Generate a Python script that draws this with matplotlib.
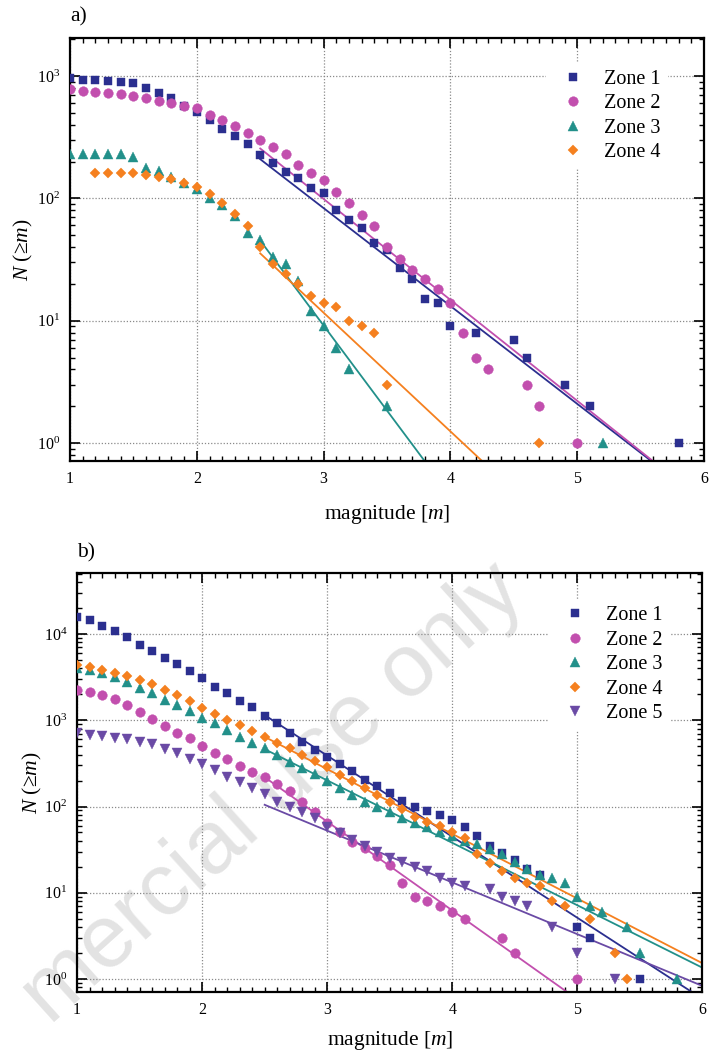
import matplotlib
matplotlib.use("Agg")
import matplotlib.pyplot as plt
import numpy as np
from matplotlib.ticker import LogLocator, MultipleLocator, NullFormatter

plt.rcParams['font.family'] = ['Liberation Serif', 'DejaVu Serif']
plt.rcParams['mathtext.fontset'] = 'custom'
plt.rcParams['mathtext.rm'] = 'Liberation Serif'
plt.rcParams['mathtext.it'] = 'Liberation Serif:italic'
plt.rcParams['mathtext.bf'] = 'Liberation Serif:bold'

# ---------------- panel a: cumulative counts N(>=m) ----------------
m_a1 = [1.0, 1.1, 1.2, 1.3, 1.4, 1.5, 1.6, 1.7, 1.8, 1.9, 2.0, 2.1, 2.2, 2.3, 2.4, 2.5,
        2.6, 2.7, 2.8, 2.9, 3.0, 3.1, 3.2, 3.3, 3.4, 3.5, 3.6, 3.7, 3.8, 3.9, 4.0, 4.2,
        4.5, 4.6, 4.9, 5.1, 5.8]
n_a1 = [957, 927, 927, 910, 888, 871, 803, 731, 665, 570, 511, 436, 366, 323, 278, 226,
        193, 165, 146, 122, 110, 80, 66, 57, 43, 38, 27, 22, 15, 14, 9, 8,
        7, 5, 3, 2, 1]

m_a2 = [1.0, 1.1, 1.2, 1.3, 1.4, 1.5, 1.6, 1.7, 1.8, 1.9, 2.0, 2.1, 2.2, 2.3, 2.4, 2.5,
        2.6, 2.7, 2.8, 2.9, 3.0, 3.1, 3.2, 3.3, 3.4, 3.5, 3.6, 3.7, 3.8, 3.9, 4.0, 4.1,
        4.2, 4.3, 4.6, 4.7, 5.0]
n_a2 = [778, 759, 744, 731, 713, 690, 657, 628, 598, 569, 545, 480, 437, 390, 340, 300,
        264, 229, 187, 162, 141, 113, 91, 73, 59, 40, 32, 26, 22, 18, 14, 8,
        5, 4, 3, 2, 1]

m_a3 = [1.0, 1.1, 1.2, 1.3, 1.4, 1.5, 1.6, 1.7, 1.8, 1.9, 2.0, 2.1, 2.2, 2.3, 2.4, 2.5,
        2.6, 2.7, 2.8, 2.9, 3.0, 3.1, 3.2, 3.5, 5.2]
n_a3 = [230, 230, 230, 230, 230, 219, 178, 168, 150, 134, 120, 100, 88, 72, 52, 46,
        33, 29, 21, 12, 9, 6, 4, 2, 1]

m_a4 = [1.2, 1.3, 1.4, 1.5, 1.6, 1.7, 1.8, 1.9, 2.0, 2.1, 2.2, 2.3, 2.4, 2.5, 2.6, 2.7,
        2.8, 2.9, 3.0, 3.1, 3.2, 3.3, 3.4, 3.5, 4.7]
n_a4 = [160, 160, 160, 160, 155, 150, 144, 134, 123, 108, 91, 75, 59, 40, 29, 24,
        20, 16, 14, 13, 10, 9, 8, 3, 1]

# Gutenberg-Richter fits, log10 N = a - b m, drawn from m_start upward
fit_a_start = [2.5, 2.5, 2.5, 2.5]
fit_a_a = [4.32, 4.47, 5.13, 3.975]
fit_a_b = [0.80, 0.825, 1.39, 0.97]

# ---------------- panel b ----------------
m_b1 = [1.0, 1.1, 1.2, 1.3, 1.4, 1.5, 1.6, 1.7, 1.8, 1.9, 2.0, 2.1, 2.2, 2.3, 2.4, 2.5,
        2.6, 2.7, 2.8, 2.9, 3.0, 3.1, 3.2, 3.3, 3.4, 3.5, 3.6, 3.7, 3.8, 3.9, 4.0, 4.1,
        4.2, 4.3, 4.4, 4.5, 4.6, 4.7, 5.0, 5.1, 5.5]
n_b1 = [15800, 14400, 12500, 10900, 9230, 7500, 6280, 5250, 4470, 3740, 3120, 2450, 2085,
        1667, 1406, 1124, 932, 712, 565, 458, 373, 312, 258, 205, 173, 144, 117, 100,
        89, 80, 70, 58, 45, 35, 29, 24, 19, 16, 4, 3, 1]

m_b2 = [1.0, 1.1, 1.2, 1.3, 1.4, 1.5, 1.6, 1.7, 1.8, 1.9, 2.0, 2.1, 2.2, 2.3, 2.4, 2.5,
        2.6, 2.7, 2.8, 2.9, 3.0, 3.1, 3.2, 3.3, 3.4, 3.5, 3.6, 3.7, 3.8, 3.9, 4.0, 4.1,
        4.4, 4.5, 5.0]
n_b2 = [2240, 2140, 1960, 1745, 1510, 1230, 1030, 860, 719, 618, 504, 415, 353, 295, 254,
        222, 183, 153, 114, 87, 65, 51, 39, 33, 27, 21, 13, 9, 8, 7, 6, 5,
        3, 2, 1]

m_b3 = [1.0, 1.1, 1.2, 1.3, 1.4, 1.5, 1.6, 1.7, 1.8, 1.9, 2.0, 2.1, 2.2, 2.3, 2.4, 2.5,
        2.6, 2.7, 2.8, 2.9, 3.0, 3.1, 3.2, 3.3, 3.4, 3.5, 3.6, 3.7, 3.8, 3.9, 4.0, 4.1,
        4.2, 4.3, 4.4, 4.5, 4.6, 4.7, 4.8, 4.9, 5.0, 5.1, 5.2, 5.4, 5.5, 5.8]
n_b3 = [4010, 3835, 3510, 3210, 2800, 2342, 2050, 1712, 1490, 1285, 1074, 922, 772, 646,
        550, 473, 396, 331, 282, 236, 197, 163, 136, 112, 100, 86, 74, 64, 58, 51, 45,
        40, 37, 32, 28, 23, 19, 16, 15, 13, 9, 7, 6, 4, 2, 1]

m_b4 = [1.0, 1.1, 1.2, 1.3, 1.4, 1.5, 1.6, 1.7, 1.8, 1.9, 2.0, 2.1, 2.2, 2.3, 2.4, 2.5,
        2.6, 2.7, 2.8, 2.9, 3.0, 3.1, 3.2, 3.3, 3.4, 3.5, 3.6, 3.7, 3.8, 3.9, 4.0, 4.1,
        4.2, 4.3, 4.4, 4.5, 4.6, 4.7, 4.8, 4.9, 5.1, 5.3, 5.4]
n_b4 = [4385, 4195, 3838, 3573, 3266, 2932, 2620, 2220, 1960, 1680, 1390, 1190, 1013, 878,
        750, 643, 541, 473, 400, 335, 287, 232, 198, 165, 136, 114, 93, 76, 66, 59, 51,
        43, 28, 22, 18, 15, 13, 12, 8, 7, 5, 2, 1]

m_b5 = [1.0, 1.1, 1.2, 1.3, 1.4, 1.5, 1.6, 1.7, 1.8, 1.9, 2.0, 2.1, 2.2, 2.3, 2.4, 2.5,
        2.6, 2.7, 2.8, 2.9, 3.0, 3.1, 3.2, 3.3, 3.4, 3.5, 3.6, 3.7, 3.8, 3.9, 4.0, 4.1,
        4.3, 4.4, 4.5, 4.6, 4.8, 5.0, 5.3]
n_b5 = [719, 676, 658, 629, 602, 565, 525, 467, 418, 358, 315, 263, 222, 194, 166, 138,
        114, 98, 87, 73, 58, 49, 41, 35, 30, 25, 23, 20, 18, 15, 13, 12,
        11, 9, 8, 7, 4, 2, 1]

fit_b_start = [2.5, 2.5, 2.5, 2.5, 2.5]
fit_b_a = [5.41, 4.915, 4.475, 4.683, 3.52]
fit_b_b = [0.94, 1.03, 0.724, 0.75, 0.60]

labels = ['Zone 1', 'Zone 2', 'Zone 3', 'Zone 4', 'Zone 5']
colors = ['#2b2f8f', '#c24fae', '#22908a', '#f5801f', '#6a4aa5']
markers = ['s', 'o', '^', 'D', 'v']
msizes = [6.4, 6.9, 7.6, 5.3, 7.6]


def style_axes(ax, ylo, yhi, xpad):
    ax.set_facecolor('none')
    ax.set_xlim(1, 6)
    ax.set_yscale('log')
    ax.set_ylim(ylo, yhi)
    ax.xaxis.set_major_locator(MultipleLocator(1))
    ax.xaxis.set_minor_locator(MultipleLocator(0.1))
    ax.yaxis.set_major_locator(LogLocator(base=10, numticks=12))
    ax.yaxis.set_minor_locator(LogLocator(base=10, subs=np.arange(2, 10), numticks=12))
    ax.yaxis.set_minor_formatter(NullFormatter())
    ax.tick_params(which='both', direction='in', top=True, right=True)
    ax.tick_params(which='major', length=7, width=1.2, labelsize=11.5, pad=7)
    ax.tick_params(which='minor', length=3.5, width=1.0)
    for s in ax.spines.values():
        s.set_linewidth(1.6)
    ax.grid(True, which='major', linestyle=(0, (1, 1.5)), color='#8a8a8a', linewidth=0.9)
    ax.set_axisbelow(True)
    ax.set_xlabel(r'magnitude [$m$]', fontsize=15.5, labelpad=xpad)
    ax.set_ylabel(r'$N$ (≥$m$)', fontsize=15.5)


def draw_panel(ax, ms_list, ns_list, starts, fa, fb):
    handles = []
    for k, (mm, nn) in enumerate(zip(ms_list, ns_list)):
        h, = ax.plot(mm, nn, linestyle='none', marker=markers[k], ms=msizes[k],
                     color=colors[k], mec=colors[k], mew=0.3, label=labels[k], zorder=3 + k)
        handles.append(h)
    for k in range(len(starts)):
        m_line = np.array([starts[k], 6.0])
        ax.plot(m_line, 10 ** (fa[k] - fb[k] * m_line), color=colors[k], lw=1.3,
                zorder=2.5)
    return handles


fig = plt.figure(figsize=(7.11, 10.52), dpi=100)

# faint diagonal watermark behind the data
fig.text(0.385, 0.245, 'mercial use only', fontsize=64, family='Liberation Sans',
         color='#e3e3e3', rotation=42, ha='center', va='center', zorder=-5)

ax1 = fig.add_axes([0.0985, 0.5618, 0.8917, 0.4021])
style_axes(ax1, 0.713, 2046, 12)
h1 = draw_panel(ax1, [m_a1, m_a2, m_a3, m_a4], [n_a1, n_a2, n_a3, n_a4],
                fit_a_start, fit_a_a, fit_a_b)
ax1.yaxis.set_label_coords(-0.055, 0.5)
leg1 = ax1.legend(handles=h1, loc='upper right', bbox_to_anchor=(0.943, 0.942),
                  fontsize=14.5, handlelength=2.0, handletextpad=0.55, labelspacing=0.27,
                  borderpad=0.35, borderaxespad=0, fancybox=False, framealpha=1,
                  edgecolor='none', facecolor='white')

ax2 = fig.add_axes([0.1083, 0.0570, 0.8797, 0.3983])
style_axes(ax2, 0.707, 50900, 8)
h2 = draw_panel(ax2, [m_b1, m_b2, m_b3, m_b4, m_b5], [n_b1, n_b2, n_b3, n_b4, n_b5],
                fit_b_start, fit_b_a, fit_b_b)
ax2.yaxis.set_label_coords(-0.053, 0.5)
leg2 = ax2.legend(handles=h2, loc='upper right', bbox_to_anchor=(0.948, 0.938),
                  fontsize=14.5, handlelength=2.0, handletextpad=0.55, labelspacing=0.27,
                  borderpad=0.35, borderaxespad=0, fancybox=False, framealpha=1,
                  edgecolor='none', facecolor='white')

fig.text(70 / 711, 1 - 17 / 1052, 'a)', fontsize=15.5, ha='left', va='center')
fig.text(77 / 711, 1 - 553 / 1052, 'b)', fontsize=15.5, ha='left', va='center')

fig.savefig('out.png', dpi=100, facecolor='white')
